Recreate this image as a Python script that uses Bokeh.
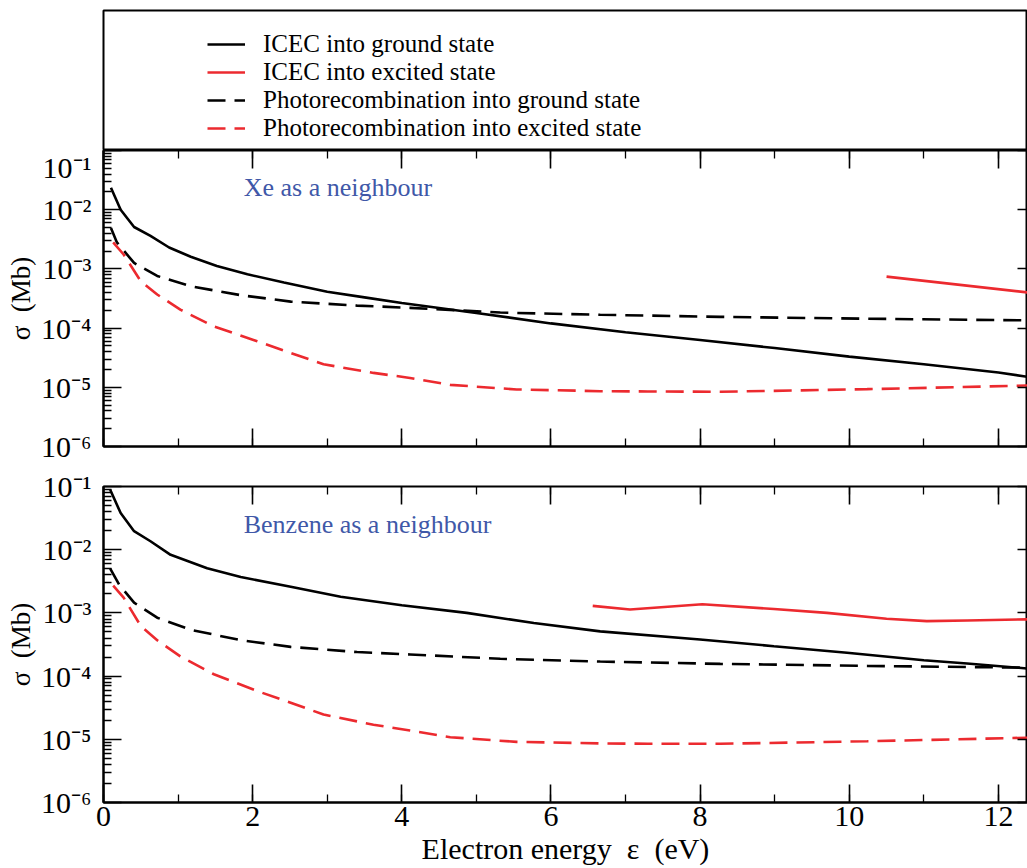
from bokeh.plotting import figure
from bokeh.models import (Range1d, FixedTicker, LinearAxis, LogAxis, CustomJSTickFormatter,
                          Label, Legend, LegendItem, SingleIntervalTicker)
from bokeh.layouts import column
from bokeh.embed import file_html
from bokeh.resources import INLINE

# ---------------- data ----------------
legend_labels = ["ICEC into ground state", "ICEC into excited state",
                 "Photorecombination into ground state", "Photorecombination into excited state"]
panel_titles = ["Xe as a neighbour", "Benzene as a neighbour"]

# Xe panel
xe_icec_g_x = [0.10, 0.23, 0.41, 0.63, 0.88, 1.17, 1.52, 1.93, 2.42, 3.0, 3.5, 4.0, 5.0, 6.0, 7.0, 8.0, 9.0, 10.0, 11.0, 12.0, 12.39]
xe_icec_g_y = [0.0234, 0.010, 0.0051, 0.0036, 0.0023, 0.0016, 0.00112, 0.00081, 0.00059, 0.00041, 0.00033, 0.000265,
               0.00018, 0.00012, 8.5e-5, 6.3e-5, 4.6e-5, 3.3e-5, 2.45e-5, 1.78e-5, 1.5e-5]
xe_icec_e_x = [10.5, 12.39]
xe_icec_e_y = [0.00074, 0.0004]
xe_pr_g_x = [0.10, 0.18, 0.41, 0.72, 1.17, 1.84, 2.51, 3.40, 4.11, 5.32, 6.66, 8.27, 10.24, 12.39]
xe_pr_g_y = [0.0049, 0.0028, 0.00126, 0.00076, 0.00051, 0.00036, 0.00028, 0.00024, 0.00022, 0.000183,
             0.000168, 0.000155, 0.000144, 0.000135]
xe_pr_e_x = [0.13, 0.27, 0.50, 0.72, 1.03, 1.48, 2.06, 2.51, 2.95, 3.62, 4.11, 4.65, 5.54, 6.66, 7.3, 8.27, 10.24, 12.39]
xe_pr_e_y = [0.0028, 0.00175, 0.00062, 0.00037, 0.000205, 0.000107, 6.0e-5, 3.8e-5, 2.45e-5, 1.75e-5,
             1.44e-5, 1.1e-5, 9.2e-6, 8.6e-6, 8.5e-6, 8.4e-6, 9.3e-6, 1.07e-5]

# Benzene panel
bz_icec_g_x = [0.09, 0.23, 0.41, 0.63, 0.90, 1.39, 1.84, 2.51, 3.18, 4.0, 4.87, 5.77, 6.66, 8.0, 8.99, 9.97, 11.0, 11.58, 12.39]
bz_icec_g_y = [0.089, 0.038, 0.0196, 0.0136, 0.0083, 0.0051, 0.0037, 0.0026, 0.0018, 0.00132, 0.001,
               0.00069, 0.00051, 0.00038, 0.000297, 0.000234, 0.000178, 0.000158, 0.000132]
bz_icec_e_x = [6.56, 7.06, 8.03, 8.99, 9.70, 10.50, 11.04, 11.58, 12.39]
bz_icec_e_y = [0.00129, 0.00113, 0.00137, 0.00115, 0.001, 0.00081, 0.00074, 0.00076, 0.00079]
bz_pr_g_x = [0.09, 0.21, 0.41, 0.72, 1.17, 1.84, 2.51, 3.40, 4.11, 5.32, 6.66, 8.27, 10.24, 12.39]
bz_pr_g_y = [0.005, 0.0028, 0.00145, 0.00084, 0.00054, 0.00037, 0.00029, 0.00024, 0.00022, 0.000188,
             0.00017, 0.000156, 0.000145, 0.000136]
bz_pr_e_x = [0.13, 0.27, 0.50, 0.72, 1.03, 1.48, 2.06, 2.51, 2.95, 3.62, 4.11, 4.65, 5.54, 6.66, 7.3, 8.27, 10.24, 12.39]
bz_pr_e_y = [0.0027, 0.00174, 0.00062, 0.00037, 0.000205, 0.000107, 5.8e-5, 3.8e-5, 2.46e-5, 1.7e-5,
             1.38e-5, 1.08e-5, 9.1e-6, 8.6e-6, 8.5e-6, 8.5e-6, 9.3e-6, 1.06e-5]

decades = [1e-6, 1e-5, 1e-4, 1e-3, 1e-2, 1e-1]
minor = [m * 10.0 ** k for k in range(-6, -1) for m in range(2, 10)]

# ---------------- style ----------------
FONT = "Liberation Serif"
W = 1027
LEFT = 103
XMAX = 12.39
RED = "#ec2a2f"
BLUE = "#4058a8"
LW = 2.6
DASH = "18 9"

sup_code = """
const sup = {"-":"\u207b","0":"\u2070","1":"\u00b9","2":"\u00b2","3":"\u00b3","4":"\u2074",
             "5":"\u2075","6":"\u2076","7":"\u2077","8":"\u2078","9":"\u2079"};
const e = Math.round(Math.log10(tick));
return "10" + String(e).split("").map(c => sup[c]).join("");
"""
empty_fmt = "return '';"


def style_axis(ax, tin, minin):
    ax.major_tick_in = tin
    ax.major_tick_out = 0
    ax.minor_tick_in = minin
    ax.minor_tick_out = 0
    ax.axis_line_width = 2
    ax.axis_line_color = "black"
    ax.major_tick_line_width = 1.6
    ax.minor_tick_line_width = 1.3
    ax.major_label_text_font = FONT
    ax.major_label_text_color = "black"
    ax.axis_label_text_color = "black"


def hide_labels(ax):
    ax.formatter = CustomJSTickFormatter(code=empty_fmt)
    ax.major_label_text_font_size = "0px"
    ax.major_label_standoff = 0


def panel(height, top, bottom, series, title, title_y, x_labels):
    p = figure(width=W, height=height, x_range=Range1d(0, XMAX), y_range=Range1d(1e-6, 1e-1),
               y_axis_type="log", output_backend="svg", toolbar_location=None,
               min_border_left=LEFT, min_border_right=0, min_border_top=top, min_border_bottom=bottom)
    p.xgrid.visible = False
    p.ygrid.visible = False
    p.outline_line_color = "black"
    p.outline_line_width = 2
    p.background_fill_color = "white"
    p.border_fill_color = "white"

    xa = p.xaxis[0]
    xa.ticker = SingleIntervalTicker(interval=2, num_minor_ticks=2)
    style_axis(xa, 18, 8)
    if x_labels:
        xa.major_label_text_font_size = "30px"
        xa.major_label_standoff = 4
        xa.axis_label = "Electron energy\u00a0\u00a0\u03b5\u00a0\u00a0(eV)"
        xa.axis_label_text_font = FONT
        xa.axis_label_text_font_size = "30px"
        xa.axis_label_text_font_style = "normal"
        xa.axis_label_standoff = 3
    else:
        hide_labels(xa)

    ya = p.yaxis[0]
    ya.ticker = FixedTicker(ticks=decades, minor_ticks=minor)
    style_axis(ya, 18, 8)
    ya.formatter = CustomJSTickFormatter(code=sup_code)
    ya.major_label_text_font_size = "30px"
    ya.major_label_standoff = 12
    ya.axis_label = "\u03c3\u00a0\u00a0(Mb)"
    ya.axis_label_text_font = FONT
    ya.axis_label_text_font_size = "27px"
    ya.axis_label_text_font_style = "normal"
    ya.axis_label_standoff = 2

    top_ax = LinearAxis(ticker=SingleIntervalTicker(interval=2, num_minor_ticks=2))
    style_axis(top_ax, 18, 8)
    hide_labels(top_ax)
    top_ax.axis_line_color = None
    p.add_layout(top_ax, "above")

    right_ax = LogAxis(ticker=FixedTicker(ticks=decades, minor_ticks=[]))
    style_axis(right_ax, 10, 0)
    hide_labels(right_ax)
    right_ax.axis_line_color = None
    p.add_layout(right_ax, "right")

    (igx, igy), (iex, iey), (pgx, pgy), (pex, pey) = series
    p.line(igx, igy, line_color="black", line_width=LW)
    p.line(iex, iey, line_color=RED, line_width=LW)
    p.line(pgx, pgy, line_color="black", line_width=LW, line_dash=DASH)
    p.line(pex, pey, line_color=RED, line_width=LW, line_dash=DASH)

    p.add_layout(Label(x=1.88, y=title_y, text=title, text_font=FONT, text_font_size="26px",
                       text_color=BLUE, text_baseline="middle", text_align="left"))
    return p


# legend box
NAN = float("nan")
pl = figure(width=W, height=150, x_range=Range1d(0, 1), y_range=Range1d(0, 1),
            output_backend="svg", toolbar_location=None, x_axis_location=None, y_axis_location=None,
            min_border_left=LEFT, min_border_right=0, min_border_top=10, min_border_bottom=0)
pl.grid.visible = False
pl.outline_line_color = "black"
pl.outline_line_width = 2
rs = [
    pl.line(x=[NAN], y=[NAN], line_color="black", line_width=LW),
    pl.line(x=[NAN], y=[NAN], line_color=RED, line_width=LW),
    pl.line(x=[NAN], y=[NAN], line_color="black", line_width=LW, line_dash=DASH),
    pl.line(x=[NAN], y=[NAN], line_color=RED, line_width=LW, line_dash=DASH),
]
leg = Legend(items=[LegendItem(label=l, renderers=[r]) for l, r in zip(legend_labels, rs)],
             location=(104, 8), orientation="vertical")
leg.border_line_color = None
leg.background_fill_alpha = 0
leg.padding = 0
leg.margin = 0
leg.spacing = 0
leg.glyph_width = 38
leg.glyph_height = 20
leg.label_height = 20
leg.label_standoff = 18
leg.label_text_font = FONT
leg.label_text_font_size = "25px"
leg.label_text_color = "black"
pl.add_layout(leg)

p1 = panel(316, 0, 20,
           [(xe_icec_g_x, xe_icec_g_y), (xe_icec_e_x, xe_icec_e_y), (xe_pr_g_x, xe_pr_g_y), (xe_pr_e_x, xe_pr_e_y)],
           panel_titles[0], 0.0237, False)
p2 = panel(402, 20, 66,
           [(bz_icec_g_x, bz_icec_g_y), (bz_icec_e_x, bz_icec_e_y), (bz_pr_g_x, bz_pr_g_y), (bz_pr_e_x, bz_pr_e_y)],
           panel_titles[1], 0.025, True)

layout = column(pl, p1, p2, spacing=0)
open("out.html", "w").write(file_html(layout, INLINE))
